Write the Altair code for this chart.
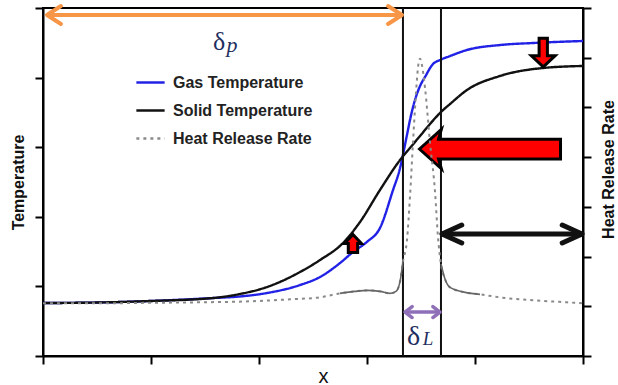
import altair as alt
import pandas as pd

# ---------------- data (axis units: x 0..5, temperature 0..5, heat release 0..7) -------------
gas_x = [0.0, 0.528, 0.991, 1.574, 1.824, 2.074, 2.380, 2.565, 2.750, 2.870, 3.0, 3.120,
         3.241, 3.306, 3.333, 3.370, 3.398, 3.444, 3.491, 3.537, 3.611, 3.676, 3.769,
         3.926, 4.231, 4.537, 5.0]
gas_t = [0.761, 0.769, 0.790, 0.833, 0.855, 0.905, 1.020, 1.135, 1.336, 1.494, 1.640, 1.839,
         2.385, 2.700, 2.890, 3.175, 3.391, 3.678, 3.879, 4.009, 4.195, 4.253, 4.310,
         4.397, 4.468, 4.497, 4.526]

solid_x = [0.0, 0.528, 0.991, 1.574, 1.824, 2.074, 2.380, 2.565, 2.778, 2.935, 3.120,
           3.306, 3.398, 3.491, 3.583, 3.685, 3.769, 3.926, 4.231, 4.630, 5.0]
solid_t = [0.761, 0.769, 0.790, 0.833, 0.891, 0.991, 1.207, 1.379, 1.624, 1.925, 2.385,
           2.816, 2.989, 3.161, 3.333, 3.506, 3.621, 3.822, 4.023, 4.138, 4.167]

hrr_x = [0.0, 0.528, 0.991, 1.454, 1.917, 2.287, 2.565, 2.750, 2.889, 3.0, 3.120, 3.213,
         3.269, 3.306, 3.333, 3.370, 3.398, 3.426, 3.454, 3.472, 3.491, 3.509, 3.537,
         3.583, 3.630, 3.657, 3.685, 3.722, 3.769, 3.907, 4.046, 4.231, 4.537, 4.852, 5.0]
hrr_v = [1.06, 1.06, 1.07, 1.08, 1.10, 1.14, 1.18, 1.26, 1.30, 1.32, 1.30, 1.26,
         1.30, 1.50, 1.90, 2.33, 3.20, 4.30, 5.30, 5.80, 5.98, 5.85, 5.40,
         4.30, 3.30, 2.40, 1.85, 1.55, 1.38, 1.28, 1.24, 1.18, 1.12, 1.08, 1.06]
# 0 = dotted only, 1/2 = drawn solid as well (flame-zone neighbourhood)
hrr_part = [0, 0, 0, 0, 0, 0, 0, 1, 1, 1, 1, 1,
            1, 1, 1, 0, 0, 0, 0, 0, 0, 0, 0,
            0, 0, 0, 2, 2, 2, 2, 2, 0, 0, 0, 0]

flame_edges = [3.333, 3.685]

preheat_arrow_x = [0.037, 3.324]
preheat_arrow_y = 4.899
flame_arrow_x = [3.352, 3.676]
flame_arrow_y = 0.632
post_arrow_x = [3.694, 4.991]
post_arrow_y = 1.753

big_arrow_pos = [4.139, 2.974]
up_arrow_pos = [2.870, 1.616]
down_arrow_pos = [4.632, 4.360]

delta_p_pos = [1.630, 4.397]
sub_p_pos = [1.750, 4.370]
delta_l_pos = [3.431, 0.158]
sub_l_pos = [3.565, 0.158]

series_names = ["Gas Temperature", "Solid Temperature", "Heat Release Rate"]
temp_ticks = [0, 1, 2, 3, 4, 5]
hrr_ticks = [0, 1, 2, 3, 4, 5, 6, 7]
x_ticks = [0, 1, 2, 3, 4, 5]

# ---------------- styling ---------------------------------------------------------------
ORANGE = "#F79646"
PURPLE = "#8E6FB8"
RED = "#FF0000"
NAVY = "#1F2F60"

xscale = alt.Scale(domain=[0, 5], nice=False, zero=False)
yl = alt.Scale(domain=[0, 5], nice=False, zero=False)
yr = alt.Scale(domain=[0, 7], nice=False, zero=False)
color_scale = alt.Scale(domain=series_names, range=["#2222E6", "#111111", "#8A8A8A"])
dash_scale = alt.Scale(domain=series_names, range=[[1, 0], [1, 0], [3, 4]])

leg = alt.Legend(title=None, orient="none", legendX=92, legendY=59, symbolType="stroke",
                 symbolSize=800, symbolStrokeWidth=2.5, labelFontSize=16,
                 labelFontWeight="bold", labelFont="Liberation Sans", labelColor="#222222",
                 rowPadding=4, padding=0, labelOffset=7)

x_axis = alt.Axis(values=x_ticks, labels=False, tickSize=8, tickWidth=2, domainWidth=2,
                  domainColor="black", tickColor="black", title="x", titleFontSize=20,
                  titleFontWeight="normal", titleFont="Liberation Sans", titleColor="#111111",
                  titleX=280, titleY=26, titleBaseline="alphabetic", titleAlign="center",
                  grid=False)
left_axis = alt.Axis(values=temp_ticks, labels=False, tickSize=8, tickWidth=2, domainWidth=2,
                     domainColor="black", tickColor="black", title="Temperature",
                     titleFontSize=16, titleFontWeight="bold", titleFont="Liberation Sans",
                     titleColor="#111111", titleAngle=270, titleX=-25, titleY=174,
                     titleAlign="center", titleBaseline="middle", grid=False)
right_axis = alt.Axis(values=hrr_ticks, orient="right", labels=False, tickSize=8, tickWidth=2,
                      domainWidth=2, domainColor="black", tickColor="black",
                      title="Heat Release Rate", titleFontSize=16, titleFontWeight="bold",
                      titleFont="Liberation Sans", titleColor="#111111", titleAngle=270,
                      titleX=25, titleY=161, titleAlign="center", titleBaseline="middle",
                      grid=False)

temp_df = pd.DataFrame({
    "x": gas_x + solid_x,
    "t": gas_t + solid_t,
    "series": [series_names[0]] * len(gas_x) + [series_names[1]] * len(solid_x),
})
hrr_df = pd.DataFrame({"x": hrr_x, "v": hrr_v, "part": hrr_part,
                       "series": [series_names[2]] * len(hrr_x)})


def X(field="x"):
    return alt.X(f"{field}:Q", scale=xscale, axis=x_axis)


def YL(field="y"):
    return alt.Y(f"{field}:Q", scale=yl, axis=left_axis)


def YR(field="v"):
    return alt.Y(f"{field}:Q", scale=yr, axis=right_axis)


temp = alt.Chart(temp_df).mark_line(strokeWidth=2.4, interpolate="monotone").encode(
    x=X(),
    y=YL("t"),
    color=alt.Color("series:N", scale=color_scale, legend=leg),
    strokeDash=alt.StrokeDash("series:N", scale=dash_scale, legend=leg),
)

edges = alt.Chart(pd.DataFrame({"x": flame_edges})).mark_rule(
    color="#111111", strokeWidth=2).encode(x=X(), y=alt.value(0), y2=alt.value(348))


def double_arrow(xs, y, color, width, head_path, head_size):
    line = alt.Chart(pd.DataFrame({"x": [xs[0]], "x2": [xs[1]], "y": [y]})).mark_rule(
        color=color, strokeWidth=width).encode(x=X(), x2="x2:Q", y=YL())
    left = alt.Chart(pd.DataFrame({"x": [xs[0]], "y": [y]})).mark_point(
        shape=head_path[0], size=head_size, filled=False, stroke=color, strokeWidth=width,
        opacity=1, strokeCap="round", strokeJoin="round").encode(x=X(), y=YL())
    right = alt.Chart(pd.DataFrame({"x": [xs[1]], "y": [y]})).mark_point(
        shape=head_path[1], size=head_size, filled=False, stroke=color, strokeWidth=width,
        opacity=1, strokeCap="round", strokeJoin="round").encode(x=X(), y=YL())
    return [line, left, right]


orange = double_arrow(preheat_arrow_x, preheat_arrow_y, ORANGE, 4,
                      ("M1.55,-1L0,0L1.55,1", "M-1.55,-1L0,0L-1.55,1"), 324)
black = double_arrow(post_arrow_x, post_arrow_y, "#111111", 5,
                     ("M2.2,-1L0,0L2.2,1", "M-2.2,-1L0,0L-2.2,1"), 324)
purple = double_arrow(flame_arrow_x, flame_arrow_y, PURPLE, 3.5,
                      ("M1.3,-1L0,0L1.3,1", "M-1.3,-1L0,0L-1.3,1"), 121)


def block_arrow(pos, path, size):
    return alt.Chart(pd.DataFrame({"x": [pos[0]], "y": [pos[1]]})).mark_point(
        shape=path, size=size, filled=True, fill=RED, stroke="#000000", strokeWidth=3,
        opacity=1, strokeJoin="miter").encode(x=X(), y=YL())


big = block_arrow(big_arrow_pos,
                  "M-1,0L-0.69,-0.28L-0.73,-0.14L1,-0.14L1,0.14L-0.73,0.14L-0.69,0.28Z", 19881)
up = block_arrow(up_arrow_pos, "M0,-1.06L1,0L0.55,0L0.55,1.06L-0.55,1.06L-0.55,0L-1,0Z", 289)
down = block_arrow(down_arrow_pos,
                   "M0,1.21L-1,0.27L-0.35,0.27L-0.35,-1.21L0.35,-1.21L0.35,0.27L1,0.27Z", 562)


def label(pos, text, size, italic=False):
    return alt.Chart(pd.DataFrame({"x": [pos[0]], "y": [pos[1]]})).mark_text(
        text=text, fontSize=size, font="Liberation Serif", color=NAVY,
        fontStyle="italic" if italic else "normal", align="center",
        baseline="alphabetic").encode(x=X(), y=YL())


texts = [label(delta_p_pos, "δ", 26), label(sub_p_pos, "p", 22, True),
         label(delta_l_pos, "δ", 28), label(sub_l_pos, "L", 19, True)]

left_group = alt.layer(temp, edges, *orange, *black, *purple, big, up, down, *texts)

hrr = alt.Chart(hrr_df).mark_line(strokeWidth=2, interpolate="monotone").encode(
    x=X(),
    y=YR(),
    color=alt.Color("series:N", scale=color_scale, legend=leg),
    strokeDash=alt.StrokeDash("series:N", scale=dash_scale, legend=leg),
)
hrr_solid = alt.Chart(hrr_df).transform_filter("datum.part > 0").mark_line(
    color="#666666", strokeWidth=1.6, interpolate="monotone").encode(
    x=X(), y=YR(), detail="part:N")

right_group = alt.layer(hrr, hrr_solid)

chart = alt.layer(left_group, right_group).resolve_scale(y="independent").properties(
    width=540, height=348,
    background="white",
    autosize=alt.AutoSizeParams(type="none"),
    padding={"left": 43, "top": 8, "right": 35, "bottom": 29},
).configure_view(stroke="black", strokeWidth=2)

chart.save("out.html", embed_options={"renderer": "svg", "actions": False})
